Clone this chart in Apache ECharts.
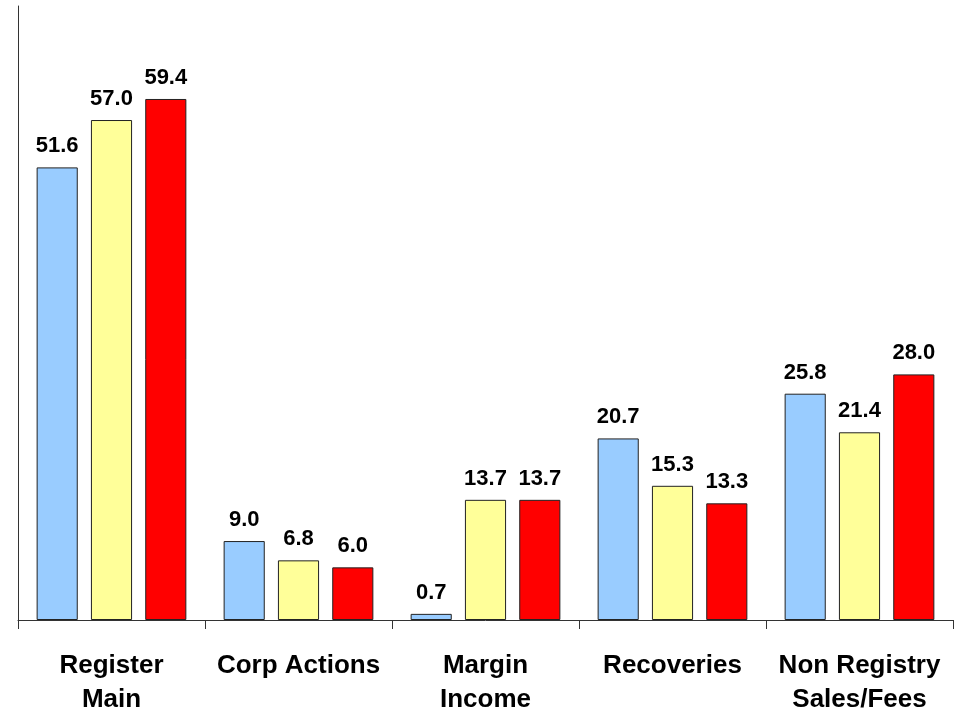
<!DOCTYPE html>
<html>
<head>
<meta charset="utf-8">
<script src="https://cdn.jsdelivr.net/npm/echarts@6/dist/echarts.min.js"></script>
<style>
html,body{margin:0;padding:0;background:#fff;}
#chart{width:958px;height:713px;}
</style>
</head>
<body>
<div id="chart"></div>
<script>
const categories = ['Register\nMain', 'Corp Actions', 'Margin\nIncome', 'Recoveries', 'Non Registry\nSales/Fees'];
const seriesNames = ['Series 1', 'Series 2', 'Series 3'];
const series1 = [51.6, 9.0, 0.7, 20.7, 25.8];
const series2 = [57.0, 6.8, 13.7, 15.3, 21.4];
const series3 = [59.4, 6.0, 13.7, 13.3, 28.0];
const colors = ['#99CCFF', '#FFFF99', '#FF0000'];

const chart = echarts.init(document.getElementById('chart'), null, {renderer: 'canvas'});
const labelFont = {show: true, position: 'top', distance: 10, fontFamily: 'Liberation Sans', fontWeight: 'bold', fontSize: 22, color: '#000', formatter: p => p.value.toFixed(1)};
const mk = (name, data, color) => ({
  name, type: 'bar', data,
  barWidth: '22%', barGap: '32%',
  itemStyle: {color, borderColor: '#222', borderWidth: 1},
  label: labelFont
});
chart.setOption({
  animation: false,
  backgroundColor: '#fff',
  grid: {left: 18, right: 5, top: 6, bottom: 93, containLabel: false, outerBoundsMode: 'none'},
  xAxis: {
    type: 'category', data: categories,
    axisLine: {show: true, lineStyle: {color: '#333', width: 1}},
    axisTick: {show: true, length: 9, lineStyle: {color: '#333'}},
    axisLabel: {interval: 0, margin: 29, fontFamily: 'Liberation Sans', fontWeight: 'bold', fontSize: 26, color: '#000', lineHeight: 34}
  },
  yAxis: {
    type: 'value', min: 0, max: 70,
    axisLine: {show: true, lineStyle: {color: '#333', width: 1}},
    axisTick: {show: false}, axisLabel: {show: false}, splitLine: {show: false}
  },
  series: [
    mk(seriesNames[0], series1, colors[0]),
    mk(seriesNames[1], series2, colors[1]),
    mk(seriesNames[2], series3, colors[2])
  ]
});
</script>
</body>
</html>
